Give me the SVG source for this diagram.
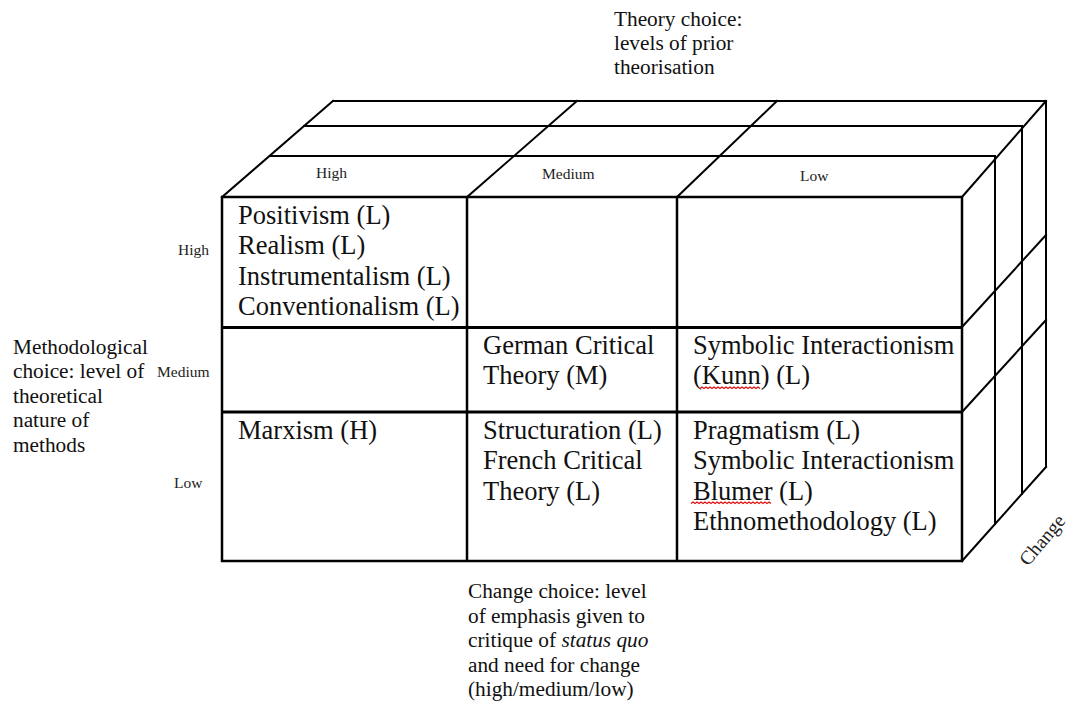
<svg xmlns="http://www.w3.org/2000/svg" width="1072" height="702" viewBox="0 0 1072 702">
  <style>
    text { font-family: "Liberation Serif", "DejaVu Serif", serif; }
    .ln { stroke: #000; stroke-width: 2; fill: none; stroke-linecap: square; }
    .front { stroke: #000; stroke-width: 2.5; fill: none; }
    .div { stroke: #000; stroke-width: 3; fill: none; }
    .cell { font-size: 26.5px; fill: #111; }
    .axis { font-size: 21.3px; fill: #111; }
    .lvl { font-size: 15.5px; fill: #222; }
    .rot { font-size: 19.5px; fill: #222; }
    .squig { stroke: #e01010; stroke-width: 1.3; fill: none; }
  </style>

  <rect width="1072" height="702" fill="#fff"/>

  <!-- cube structure: top slices, side slices and front grid -->
  <g id="connectors">
    <!-- top face: depth layers -->
    <line class="ln" x1="333" y1="101" x2="1046" y2="101"/>
    <line class="ln" x1="304" y1="126" x2="1022" y2="126"/>
    <line class="ln" x1="270" y1="156" x2="995" y2="156"/>
    <!-- top face: receding edges -->
    <line class="ln" x1="222" y1="197" x2="333" y2="101"/>
    <line class="ln" x1="467" y1="197" x2="577" y2="101"/>
    <line class="ln" x1="677" y1="197" x2="777" y2="101"/>
    <line class="ln" x1="962" y1="197" x2="1046" y2="101"/>
    <!-- right face: depth layers -->
    <line class="ln" x1="995" y1="156" x2="995" y2="524"/>
    <line class="ln" x1="1022" y1="126" x2="1022" y2="494"/>
    <line class="ln" x1="1046" y1="101" x2="1046" y2="467"/>
    <!-- right face: receding row edges -->
    <line class="ln" x1="962" y1="327" x2="1046" y2="235"/>
    <line class="ln" x1="962" y1="412" x2="1046" y2="320"/>
    <line class="ln" x1="962" y1="561" x2="1046" y2="467"/>
    <!-- front face grid -->
    <rect class="front" x="222" y="197" width="740" height="364"/>
    <line class="front" x1="467" y1="197" x2="467" y2="561"/>
    <line class="front" x1="677" y1="197" x2="677" y2="561"/>
    <line class="div" x1="222" y1="327.5" x2="962" y2="327.5"/>
    <line class="div" x1="222" y1="412" x2="962" y2="412"/>
  </g>

  <!-- axis titles -->
  <g id="theory-axis">
    <text class="axis" x="614" y="25.5">Theory choice:</text>
    <text class="axis" x="614" y="49.5">levels of prior</text>
    <text class="axis" x="614" y="73.5">theorisation</text>
  </g>
  <g id="method-axis">
    <text class="axis" x="13" y="353.5">Methodological</text>
    <text class="axis" x="13" y="378">choice: level of</text>
    <text class="axis" x="13" y="402.5">theoretical</text>
    <text class="axis" x="13" y="427">nature of</text>
    <text class="axis" x="13" y="451.5">methods</text>
  </g>
  <g id="change-axis">
    <text class="axis" x="468" y="598">Change choice: level</text>
    <text class="axis" x="468" y="622.5">of emphasis given to</text>
    <text class="axis" x="468" y="647">critique of <tspan font-style="italic">status quo</tspan></text>
    <text class="axis" x="468" y="671.5">and need for change</text>
    <text class="axis" x="468" y="696">(high/medium/low)</text>
  </g>

  <!-- level labels -->
  <g id="theory-levels">
    <text class="lvl" x="316" y="178">High</text>
    <text class="lvl" x="542" y="179">Medium</text>
    <text class="lvl" x="800" y="181">Low</text>
  </g>
  <g id="method-levels">
    <text class="lvl" x="178" y="255">High</text>
    <text class="lvl" x="157" y="377">Medium</text>
    <text class="lvl" x="174" y="488">Low</text>
  </g>
  <g id="change-label">
    <text class="rot" x="1028" y="567" transform="rotate(-50 1028 567)">Change</text>
  </g>

  <!-- cells -->
  <g id="cell-high-high">
    <text class="cell" x="238" y="223.5">Positivism (L)</text>
    <text class="cell" x="238" y="254">Realism (L)</text>
    <text class="cell" x="238" y="284.5">Instrumentalism (L)</text>
    <text class="cell" x="238" y="315">Conventionalism (L)</text>
  </g>
  <g id="cell-medium-medium">
    <text class="cell" x="483" y="353.5">German Critical</text>
    <text class="cell" x="483" y="384">Theory (M)</text>
  </g>
  <g id="cell-medium-low">
    <text class="cell" x="693" y="353.5">Symbolic Interactionism</text>
    <text class="cell" x="693" y="384">(Kunn) (L)</text>
    <path class="squig" d="M700 388.5 l2 -1.5 l2 1.5 l2 -1.5 l2 1.5 l2 -1.5 l2 1.5 l2 -1.5 l2 1.5 l2 -1.5 l2 1.5 l2 -1.5 l2 1.5 l2 -1.5 l2 1.5 l2 -1.5 l2 1.5 l2 -1.5 l2 1.5 l2 -1.5 l2 1.5 l2 -1.5 l2 1.5 l2 -1.5 l2 1.5 l2 -1.5 l2 1.5 l2 -1.5 l2 1.5 l2 -1.5 l2 1.5"/>
  </g>
  <g id="cell-low-high">
    <text class="cell" x="238" y="438.5">Marxism (H)</text>
  </g>
  <g id="cell-low-medium">
    <text class="cell" x="483" y="438.5">Structuration (L)</text>
    <text class="cell" x="483" y="469">French Critical</text>
    <text class="cell" x="483" y="499.5">Theory (L)</text>
  </g>
  <g id="cell-low-low">
    <text class="cell" x="693" y="438.5">Pragmatism (L)</text>
    <text class="cell" x="693" y="469">Symbolic Interactionism</text>
    <text class="cell" x="693" y="499.5">Blumer (L)</text>
    <text class="cell" x="693" y="530">Ethnomethodology (L)</text>
    <path class="squig" d="M691 503.5 l2 -1.5 l2 1.5 l2 -1.5 l2 1.5 l2 -1.5 l2 1.5 l2 -1.5 l2 1.5 l2 -1.5 l2 1.5 l2 -1.5 l2 1.5 l2 -1.5 l2 1.5 l2 -1.5 l2 1.5 l2 -1.5 l2 1.5 l2 -1.5 l2 1.5 l2 -1.5 l2 1.5 l2 -1.5 l2 1.5 l2 -1.5 l2 1.5 l2 -1.5 l2 1.5 l2 -1.5 l2 1.5 l2 -1.5 l2 1.5 l2 -1.5 l2 1.5 l2 -1.5 l2 1.5 l2 -1.5 l2 1.5 l2 -1.5 l2 1.5"/>
  </g>
</svg>
